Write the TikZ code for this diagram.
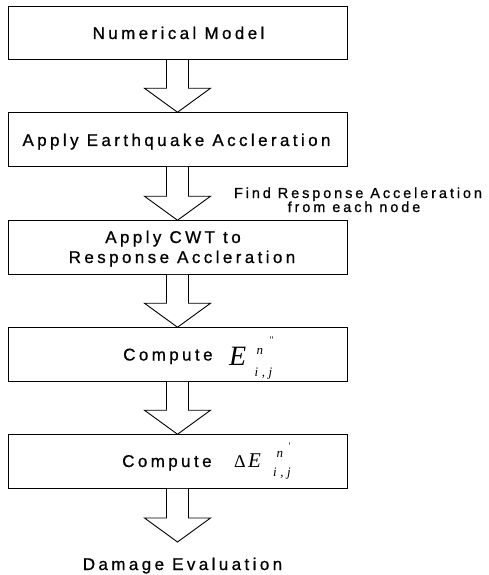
\documentclass[tikz,border=0pt]{standalone}
\usepackage{fontspec}
\setmainfont{Liberation Sans}
\newfontfamily\tms{Liberation Serif}
\usetikzlibrary{calc}

\tikzset{
  box/.style={draw, line width=1pt, minimum width=339pt, minimum height=53.5pt, inner sep=0pt},
  lbl/.style={inner sep=0pt, font=\fontsize{17}{20}\selectfont\addfontfeature{LetterSpace=20,FakeBold=0.8}},
  note/.style={inner sep=0pt, font=\fontsize{14.5}{17}\selectfont\addfontfeature{LetterSpace=20,FakeBold=0.8}},
  mathbig/.style={inner sep=0pt, font=\tms\itshape\fontsize{28}{28}\selectfont},
  mathmid/.style={inner sep=0pt, font=\tms\itshape\fontsize{21}{21}\selectfont},
  mathsub/.style={inner sep=0pt, font=\tms\itshape\fontsize{13}{13}\selectfont},
  tick/.style={inner sep=0pt, font=\tms\fontsize{10}{10}\selectfont},
  blockarrow/.style={draw, line width=0.9pt, fill=white, line join=miter},
}

% hollow block arrow from the bottom of one node to a target point
\newcommand\blockarr[2]{%
  \draw[blockarrow] ($(#1.south)+(-11,0)$) -- ($(#2)+(-11,-24)$) -- ($(#2)+(-33,-24)$)
    -- (#2) -- ($(#2)+(33,-24)$) -- ($(#2)+(11,-24)$) -- ($(#1.south)+(11,0)$);}

\begin{document}
\begin{tikzpicture}[x=1pt, y=-1pt]
  \useasboundingbox (0,0) rectangle (489,575);

  % process boxes
  \node[box] (b1) at (177.5,33) {};
  \node[box] (b2) at (177.5,139.5) {};
  \node[box] (b3) at (177.5,247.5) {};
  \node[box] (b4) at (177.5,354.5) {};
  \node[box] (b5) at (177.5,461.5) {};
  \coordinate (end) at (177.5,542);

  % block arrows between the steps
  \blockarr{b1}{b2.north}
  \blockarr{b2}{b3.north}
  \blockarr{b3}{b4.north}
  \blockarr{b4}{b5.north}
  \blockarr{b5}{end}

  % box texts
  \node[lbl, anchor=base] (t1) at (178.5,39) {Numerical Model};
  \node[lbl, anchor=base] (t2) at (176.5,146) {Apply Earthquake Accleration};
  \node[lbl, anchor=base] (t3a) at (173,243) {Apply CWT to};
  \node[lbl, anchor=base] (t3b) at (182,263) {Response Accleration};

  % side note on the second arrow
  \node[note, anchor=base] (n1) at (358,198) {Find Response Acceleration};
  \node[note, anchor=base] (n2) at (354,212) {from each node};

  % Compute E_{i,j}^{n''}
  \node[lbl, anchor=base west] (t4) at (123,360.5) {Compute};
  \node[mathbig, anchor=base west] (e4) at (229,365) {E};
  \node[mathsub, anchor=base west] (e4sup) at (256.5,354) {n};
  \node[tick, anchor=base west] (e4tick) at (269.5,343) {\textquotedbl};
  \node[mathsub, anchor=base west] (e4sub) at (254.5,376) {i\hspace{3.5pt},\hspace{3.5pt}j};

  % Compute Delta E_{i,j}^{n'}
  \node[lbl, anchor=base west] (t5) at (122,467) {Compute};
  \node[inner sep=0pt, font=\tms\fontsize{18}{18}\selectfont, anchor=base west] (d5) at (234,467) {Δ};
  \node[mathmid, anchor=base west] (e5) at (248,467) {E};
  \node[mathsub, anchor=base west] (e5sup) at (276.5,457) {n};
  \node[tick, anchor=base west] (e5tick) at (288.5,449) {\textquotesingle};
  \node[mathsub, anchor=base west] (e5sub) at (273,476) {i\hspace{3.5pt},\hspace{3.5pt}j};

  % final result
  \node[lbl, anchor=base] (t6) at (182.5,570) {Damage Evaluation};
\end{tikzpicture}
\end{document}
